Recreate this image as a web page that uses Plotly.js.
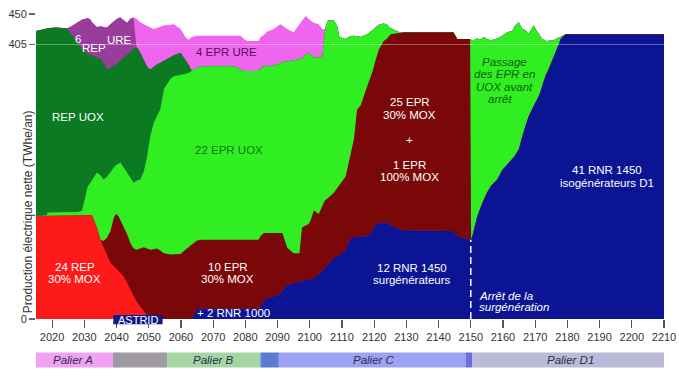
<!DOCTYPE html>
<html><head><meta charset="utf-8">
<script src="https://cdn.plot.ly/plotly-3.0.1.min.js"></script>
<style>html,body{margin:0;padding:0;background:#fff}#chart{width:679px;height:377px}</style>
</head><body><div id="chart"></div>
<script>
// ---- data (TWhe/an, cumulative tops of each stacked band) ----
const years = [2015,2016.5,2018.3,2018.6,2021,2024.6,2026,2027.7,2028.8,2029.3,
 2030.3,2031,2031.9,2032.4,2033.9,2035,2036,2037,2038.1,2039.2,
 2039.8,2040.6,2041.2,2042.2,2043.3,2044.3,2045.3,2046.2,2046.8,2047.4,
 2048.5,2049.5,2050.5,2051.6,2052.6,2053.6,2054.7,2056.7,2057.8,2059.9,
 2061.4,2062.3,2063.4,2065,2066.5,2068.2,2076.4,2078.5,2079.6,2080.6,
 2084.1,2084.7,2085.7,2086.8,2088.8,2090.3,2090.9,2091.5,2093,2095,
 2096.8,2097.6,2098.7,2099.7,2100.3,2101.3,2102.8,2103.9,2104.6,2105,
 2105.6,2107.4,2108.5,2109.2,2111.1,2111.6,2112.6,2113.7,2114.7,2115.8,
 2117.9,2119.5,2120.5,2121.5,2123,2124,2125.1,2127.2,2128.5,2129.3,
 2144.6,2145.8,2147,2149.8,2150.1,2150.5,2152,2153,2154,2155,
 2156.2,2158.2,2159.8,2161.3,2162.9,2163.6,2164.9,2166,2167,2168,
 2169.5,2170.5,2171.5,2172.2,2173.3,2174.2,2175.5,2176.4,2177.4,2177.9,
 2179.5,2210];

// RNR (ASTRID / 2 RNR 1000 / 12 RNR 1450 / 41 RNR 1450 D1)
const blueTop = [0,0,0,0,0,0,0,0,0,0,
 0,0,0,0,0,0,0,0,0,0,
 0,0,0,0,0,0,0,0,0,0,
 0,0,0,0,0,0,0,0,0,0,
 0,0,0,15,15,15,15,15,15,15,
 15,18,28,30,33,36,38,42,50,53,
 55,56,58,59,59,60,66,71,75,77,
 80,90,92,94,102,108,119,121,122,122,
 122,130,140,141,142,142,138,134,132,131,
 130,123,120,118,118,122,151,164,176,186,
 196,206,220,228,235,240,250,270,285,299,
 314,322,333,344,360,369,383,393,406,413,
 420,420];

// 24 REP 30% MOX
const redTop = [152,152,153,153,153,153,153,153,153,153,
 153,153,153,153,135,117,106,94,83,78,
 75,71,68,63,53,43,33,26,22,18,
 11,5,0,0,0,0,0,0,0,0,
 0,0,0,15,15,15,15,15,15,15,
 15,18,28,30,33,36,38,42,50,53,
 55,56,58,59,59,60,66,71,75,77,
 80,90,92,94,102,108,119,121,122,122,
 122,130,140,141,142,142,138,134,132,131,
 130,123,120,118,118,122,151,164,176,186,
 196,206,220,228,235,240,250,270,285,299,
 314,322,333,344,360,369,383,393,406,413,
 420,420];

// EPR 30% MOX (+ 1 EPR 100% MOX)
const darkRedTop = [152,152,153,153,153,153,153,153,153,153,
 153,153,153,153,135,117,115,120,129,150,
 155,152,146,137,125,112,104,102,103,105,
 106,104,102,103,104,101,97,95,95,96,
 102,105,110,116,117,117,117,117,117,117,
 117,122,127,127,127,127,127,127,105,97,
 97,135,138,140,146,160,155,168,174,176,
 178,186,193,198,210,220,243,265,309,315,
 344,365,383,398,410,414,420,421,422,423,
 423,413,413,413,118,122,151,164,176,186,
 196,206,220,228,235,240,250,270,285,299,
 314,322,333,344,360,369,383,393,406,413,
 420,420];

// EPR UOX
const lightGreenTop = [152,152,153,157,157,158,158,158,159,160,
 180,195,201,205,216,212,206,210,216,224,
 227,229,231,224,216,208,201,204,205,206,
 218,240,270,290,300,309,339,354,358,361,
 362,363,366,371,372,373,373,369,366,366,
 366,370,373,373,374,376,378,379,380,382,
 383,384,390,393,390,386,386,385,420,432,
 440,441,432,416,413,414,417,418,417,416,
 420,426,431,434,436,434,429,424,422,423,
 423,413,413,413,412,410,414,412,416,413,
 411,414,418,423,425,432,438,428,426,421,
 433,425,417,413,410,410,411,413,415,417,
 420,420];

// REP UOX
const darkGreenTop = [425,427,429,429,430,429,420,408,402,399,
 394,391,390,389,386,384,378,368,371,374,
 375,379,382,386,390,395,399,401,398,393,
 381,372,368,372,376,378,381,386,389,393,
 383,376,366,371,372,373,373,369,366,366,
 366,370,373,373,374,376,378,379,380,382,
 383,384,390,393,390,386,386,385,420,432,
 440,441,432,416,413,414,417,418,417,416,
 420,426,431,434,436,434,429,424,422,423,
 423,413,413,413,412,410,414,412,416,413,
 411,414,418,423,425,432,438,428,426,421,
 433,425,417,413,410,410,411,413,415,417,
 420,420];

// 6 REP URE
const purpleTop = [425,427,429,429,430,429,432,437,440,442,
 443,444,442,438,431,432,431,430,435,440,
 442,444,445,441,437,443,445,401,398,393,
 381,372,368,372,376,378,381,386,389,393,
 383,376,366,371,372,373,373,369,366,366,
 366,370,373,373,374,376,378,379,380,382,
 383,384,390,393,390,386,386,385,420,432,
 440,441,432,416,413,414,417,418,417,416,
 420,426,431,434,436,434,429,424,422,423,
 423,413,413,413,412,410,414,412,416,413,
 411,414,418,423,425,432,438,428,426,421,
 433,425,417,413,410,410,411,413,415,417,
 420,420];

// 4 EPR URE
const magentaTop = [425,427,429,429,430,429,432,437,440,442,
 443,444,442,438,431,432,431,430,435,440,
 442,444,445,441,437,443,445,443,440,438,
 435,432,430,428,430,432,433,434,435,428,
 416,412,416,418,418,418,418,418,413,410,
 410,416,419,424,428,433,435,433,428,423,
 434,440,447,443,440,437,435,428,428,432,
 440,441,432,416,413,414,417,418,417,416,
 420,426,431,434,436,434,429,424,422,423,
 423,413,413,413,412,410,414,412,416,413,
 411,414,418,423,425,432,438,428,426,421,
 433,425,417,413,410,410,411,413,415,417,
 420,420];

const xTicks = [2020,2030,2040,2050,2060,2070,2080,2090,2100,2110,2120,2130,2140,2150,2160,2170,2180,2190,2200,2210];
const yTicks = [0,405,450];

const palierNames = ['Palier A','','Palier B','','Palier C','','Palier D1'];
const palierStart = [2014.3,2038.9,2055.7,2084.7,2090.4,2148.4,2150.5];
const palierEnd   = [2038.9,2055.7,2084.7,2090.4,2148.4,2150.5,2210.5];
const palierLabelYear = [2026.5,null,2070,null,2120,null,2181];

// ---- drawing ----
const F = 'Liberation Sans, Arial, Helvetica, sans-serif';
const layers = [
  {y: magentaTop,   color: '#ee66ee'},
  {y: purpleTop,    color: '#9a3c9c'},
  {y: darkGreenTop, color: '#0c7a22'},
  {y: lightGreenTop,color: '#30ee22'},
  {y: darkRedTop,   color: '#7a0808'},
  {y: redTop,       color: '#ff1a1a'},
  {y: blueTop,      color: '#0b1594'}
];
const traces = layers.map(l => ({
  x: years, y: l.y, type: 'scatter', mode: 'lines', fill: 'tozeroy',
  fillcolor: l.color, line: {width: 0, color: l.color}, hoverinfo: 'skip', showlegend: false
}));

const palierColors = ['#f2a2f2','#9f9aa1','#a4d6a4','#5a7bcf','#9ca2f3','#6a70d8','#bbbbd9'];
const shapes = [];
palierStart.forEach((s, i) => {
  shapes.push({type:'rect', xref:'x', yref:'paper', x0:s, x1:palierEnd[i], y0:-0.1590, y1:-0.1098,
    fillcolor: palierColors[i], line:{width:0}, layer:'above'});
});
shapes.push({type:'line', xref:'paper', x0:0, x1:1, yref:'y', y0:405, y1:405,
  line:{color:'rgba(255,255,255,0.35)', width:1}, layer:'above'});
shapes.push({type:'line', xref:'x', x0:2150, x1:2150, yref:'y', y0:0, y1:117,
  line:{color:'#ffffff', width:1.5, dash:'7px,4px'}, layer:'above'});
shapes.push({type:'rect', xref:'x', x0:2039.0, x1:2054.3, yref:'paper', y0:-0.0174, y1:0.013,
  fillcolor:'#0c1a8c', line:{width:0}, layer:'above'});

const W = '#ffffff';
const labels = [
  ['REP UOX', 2028.0, 298, W, false, 'center'],
  ['6', 2027.9, 413, W, false, 'center'],
  ['REP', 2033.0, 400, W, false, 'center'],
  ['URE', 2040.8, 411, W, false, 'center'],
  ['4 EPR URE', 2074.0, 394, '#5a0a63', false, 'center'],
  ['22 EPR UOX', 2074.9, 249, '#137313', false, 'center'],
  ['24 REP', 2027.1, 76.7, W, false, 'center'],
  ['30% MOX', 2027.1, 59, W, false, 'center'],
  ['10 EPR', 2074.6, 76.7, W, false, 'center'],
  ['30% MOX', 2074.6, 59, W, false, 'center'],
  ['+ 2 RNR 1000', 2076.2, 9, W, false, 'center'],
  ['25 EPR', 2131.1, 320, W, false, 'center'],
  ['30% MOX', 2131.1, 301, W, false, 'center'],
  ['+', 2131.1, 264, W, false, 'center'],
  ['1 EPR', 2131.1, 227, W, false, 'center'],
  ['100% MOX', 2131.1, 209.5, W, false, 'center'],
  ['Passage', 2160.6, 379, '#0b610b', true, 'center'],
  ['des EPR en', 2160.6, 361, '#0b610b', true, 'center'],
  ['UOX avant', 2160.6, 342, '#0b610b', true, 'center'],
  ['arrêt', 2159.1, 325, '#0b610b', true, 'center'],
  ['41 RNR 1450', 2192.2, 220, W, false, 'center'],
  ['isogénérateurs D1', 2192.2, 200.7, W, false, 'center'],
  ['12 RNR 1450', 2131.8, 75.7, W, false, 'center'],
  ['surgénérateurs', 2131.8, 57.5, W, false, 'center'],
  ['Arrêt de la', 2151.8, 34, W, true, 'left'],
  ['surgénération', 2151.8, 17.7, W, true, 'left']
];
const annotations = labels.map(l => ({
  text: l[4] ? '<i>' + l[0] + '</i>' : l[0], x: l[1], y: l[2], xref:'x', yref:'y',
  showarrow:false, xanchor: l[5], yanchor:'middle',
  font:{family:F, size:11.5, color:l[3]}
}));
annotations.push({text:'ASTRID', x:2046.7, y:-0.002, xref:'x', yref:'paper', showarrow:false,
  xanchor:'center', yanchor:'middle', font:{family:F, size:11, color:'#ffffff'}});
palierNames.forEach((n, i) => {
  if (n) annotations.push({text:'<i>' + n + '</i>', x: palierLabelYear[i], y:-0.1344, xref:'x', yref:'paper',
    showarrow:false, xanchor:'center', yanchor:'middle', font:{family:F, size:11.5, color:'#2b2b4b'}});
});
annotations.push({text:'Production électrique nette (TWhe/an)', xref:'paper', yref:'paper',
  x:-0.0127, y:0.35, textangle:-90, showarrow:false, xanchor:'center', yanchor:'middle',
  font:{family:F, size:12, color:'#333'}});

const layout = {
  width:679, height:377, margin:{l:36, r:15, t:14, b:58},
  paper_bgcolor:'#ffffff', plot_bgcolor:'#ffffff', showlegend:false,
  font:{family:F, size:11, color:'#333'},
  xaxis:{range:[2015,2210], tickvals:xTicks, ticks:'outside', ticklen:8, tickwidth:1.2,
    tickcolor:'#555', showgrid:false, zeroline:false, showline:false,
    tickfont:{family:F, size:11, color:'#333'}, fixedrange:true},
  yaxis:{range:[0,450], tickvals:yTicks, ticks:'outside', ticklen:6, tickwidth:1.2,
    tickcolor:'#666', showgrid:true, gridcolor:'#bdbdbd', gridwidth:1, zeroline:false, showline:false,
    tickfont:{family:F, size:11, color:'#333'}, fixedrange:true},
  shapes: shapes, annotations: annotations
};
Plotly.newPlot('chart', traces, layout, {displayModeBar:false, staticPlot:true});
</script></body></html>
